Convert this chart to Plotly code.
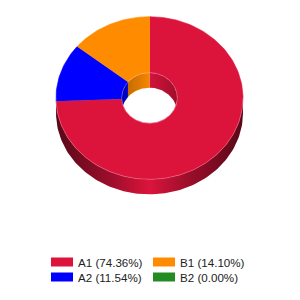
import numpy as np
import plotly.graph_objects as go

# ---- data ----
labels = ["A1", "A2", "B1", "B2"]
values = [58, 9, 11, 0]
colors = ["#DC143C", "#0000FF", "#FF8C00", "#228B22"]

# ---- geometry / style ----
CX, CY = 149.5, 98.0      # centre of top face (px)
RX, RY = 93.5, 81.3       # outer radii
HX, HY = 27.8, 25.3       # hole radii
DEPTH = 15.0              # thickness of the 3D ring
N = 240

total = float(sum(values))
fracs = [v / total for v in values]
bounds = np.concatenate([[0.0], np.cumsum(fracs) * 360.0])


def hex2rgb(h):
    h = h.lstrip("#")
    return tuple(int(h[i:i + 2], 16) for i in (0, 2, 4))


def shade(h, f):
    r, g, b = hex2rgb(h)
    return "rgb(%d,%d,%d)" % (min(255, r * f), min(255, g * f), min(255, b * f))


def arc(a0, a1, rx, ry, dy=0.0, n=N):
    t = np.radians(np.linspace(a0, a1, max(2, int(n * abs(a1 - a0) / 360) + 2)))
    return CX + rx * np.sin(t), CY - ry * np.cos(t) + dy


fig = go.Figure()

# outer wall (front half: 90..270 deg clockwise from top)
for lab, col, a0, a1 in zip(labels, colors, bounds[:-1], bounds[1:]):
    s, e = max(a0, 90.0), min(a1, 270.0)
    if e - s <= 0.01:
        continue
    xt, yt = arc(s, e, RX, RY)
    xb, yb = arc(s, e, RX, RY, DEPTH)
    xs = np.concatenate([xt, xb[::-1]])
    ys = np.concatenate([yt, yb[::-1]])
    fig.add_trace(go.Scatter(
        x=xs, y=ys, mode="lines", fill="toself", line=dict(width=0),
        fillgradient=dict(type="horizontal", start=CX - RX, stop=CX + RX,
                          colorscale=[[0, shade(col, 0.40)], [0.3, shade(col, 0.72)],
                                      [0.5, shade(col, 1.0)], [0.7, shade(col, 0.72)],
                                      [1, shade(col, 0.40)]]),
        hoverinfo="skip", showlegend=False))

# top face slices
for lab, col, a0, a1 in zip(labels, colors, bounds[:-1], bounds[1:]):
    if a1 - a0 <= 0.01:
        continue
    xo, yo = arc(a0, a1, RX, RY)
    xi, yi = arc(a0, a1, HX, HY)
    xs = np.concatenate([xo, xi[::-1]])
    ys = np.concatenate([yo, yi[::-1]])
    fig.add_trace(go.Scatter(
        x=xs, y=ys, mode="lines", fill="toself", fillcolor=col,
        line=dict(width=0.6, color=col), name=lab,
        hoverinfo="skip", showlegend=False))

# highlight along front outer edge
xh, yh = arc(90, 270, RX, RY)
fig.add_trace(go.Scatter(x=xh, y=yh, mode="lines",
                         line=dict(width=1, color="rgba(255,255,255,0.22)"),
                         hoverinfo="skip", showlegend=False))

# inner wall (back half of the hole: 270..450)
for lab, col, a0, a1 in zip(labels, colors, bounds[:-1], bounds[1:]):
    for off in (0.0, 360.0):
        s, e = max(a0 + off, 270.0), min(a1 + off, 450.0)
        if e - s <= 0.01:
            continue
        t = np.radians(np.linspace(s, e, max(2, int(N * (e - s) / 360) + 2)))
        xt = CX + HX * np.sin(t)
        yt = CY - HY * np.cos(t)
        yb = np.minimum(yt + DEPTH, CY + HY * np.cos(t))
        xs = np.concatenate([xt, xt[::-1]])
        ys = np.concatenate([yt, yb[::-1]])
        fig.add_trace(go.Scatter(
            x=xs, y=ys, mode="lines", fill="toself", line=dict(width=0),
            fillgradient=dict(type="horizontal", start=CX - HX, stop=CX + HX,
                              colorscale=[[0, shade(col, 0.72)], [0.5, shade(col, 0.97)],
                                          [1, shade(col, 0.72)]]),
            hoverinfo="skip", showlegend=False))

# hole rim highlight
xr, yr = arc(0, 360, HX, HY)
fig.add_trace(go.Scatter(x=xr, y=yr, mode="lines",
                         line=dict(width=1, color="rgba(255,255,255,0.25)"),
                         hoverinfo="skip", showlegend=False))

# ---- legend (2 columns, column-major) ----
shapes, annots = [], []
col_x = [51, 153]
row_y = [262, 277]
for i, (lab, col, v) in enumerate(zip(labels, colors, values)):
    c, r = divmod(i, 2)
    x0, y0 = col_x[c], row_y[r]
    shapes.append(dict(type="rect", xref="x", yref="y", x0=x0, x1=x0 + 22,
                       y0=y0 - 4.5, y1=y0 + 4.5, fillcolor=col, line=dict(width=0)))
    annots.append(dict(xref="x", yref="y", x=x0 + 25, y=y0 + 0.5, xanchor="left",
                       yanchor="middle", showarrow=False,
                       text="%s (%.2f%%)" % (lab, 100.0 * v / total),
                       font=dict(family="Arial, Liberation Sans, sans-serif",
                                 size=11.6, color="#222222")))

fig.update_layout(
    width=300, height=300, margin=dict(l=0, r=0, t=0, b=0),
    paper_bgcolor="white", plot_bgcolor="white",
    xaxis=dict(range=[0, 300], visible=False, fixedrange=True),
    yaxis=dict(range=[300, 0], visible=False, fixedrange=True),
    shapes=shapes, annotations=annots, showlegend=False,
)

fig.write_html("out.html")
